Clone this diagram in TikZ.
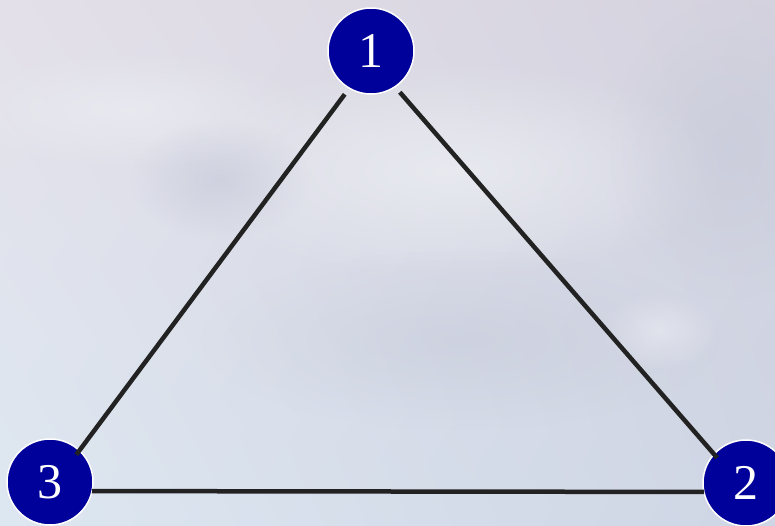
\documentclass[tikz,border=0pt]{standalone}
\usepackage{fontspec}
\setmainfont{Liberation Serif}
\usetikzlibrary{fadings,shadings}
\definecolor{nodeblue}{HTML}{00009A}
\definecolor{edgegray}{HTML}{222222}
\definecolor{bgUL}{RGB}{228,224,233}
\definecolor{bgUR}{RGB}{212,210,222}
\definecolor{bgLL}{RGB}{221,231,241}
\definecolor{bgLR}{RGB}{206,213,228}
\definecolor{bgdark}{RGB}{196,200,216}
\definecolor{bglight}{RGB}{236,238,243}
\tikzfading[name=softfade, inner color=transparent!0, outer color=transparent!100]
\begin{document}
\begin{tikzpicture}[x=1pt,y=-1pt,
  vertex/.style={circle, fill=nodeblue, draw=white, line width=1.5pt, minimum size=86pt, inner sep=0pt, text=white, font=\fontsize{50}{50}\selectfont},
  edge/.style={draw=edgegray, line width=4.5pt, shorten <=44pt, shorten >=44pt},
  blob/.style={path fading=softfade}]
\useasboundingbox (0,0) rectangle (775,525);
\shade[upper left=bgUL, upper right=bgUR, lower left=bgLL, lower right=bgLR]
  (0,0) rectangle (775,525);
\fill[bglight, opacity=0.8, blob] (450,170) ellipse (280 and 110);
\fill[bglight, opacity=0.7, blob] (130,110) ellipse (180 and 60);
\fill[bgdark, opacity=0.6, blob] (220,180) ellipse (90 and 60);
\fill[bgdark, opacity=0.5, blob] (730,150) ellipse (120 and 150);
\fill[bgdark, opacity=0.45, blob] (460,340) ellipse (260 and 90);
\fill[bglight, opacity=0.6, blob] (660,330) ellipse (60 and 40);
\node[vertex] (n1) at (371,51) {1};
\node[vertex] (n2) at (746,483) {2};
\node[vertex] (n3) at (50,482) {3};
\draw[edge] ([yshift=-8pt]n1.center) -- ([yshift=-8pt]n2.center);
\draw[edge] ([yshift=-8pt]n1.center) -- ([yshift=-8pt]n3.center);
\draw[edge, shorten <=42pt, shorten >=42pt] ([yshift=-9pt]n3.center) -- ([yshift=-9pt]n2.center);
\end{tikzpicture}
\end{document}
